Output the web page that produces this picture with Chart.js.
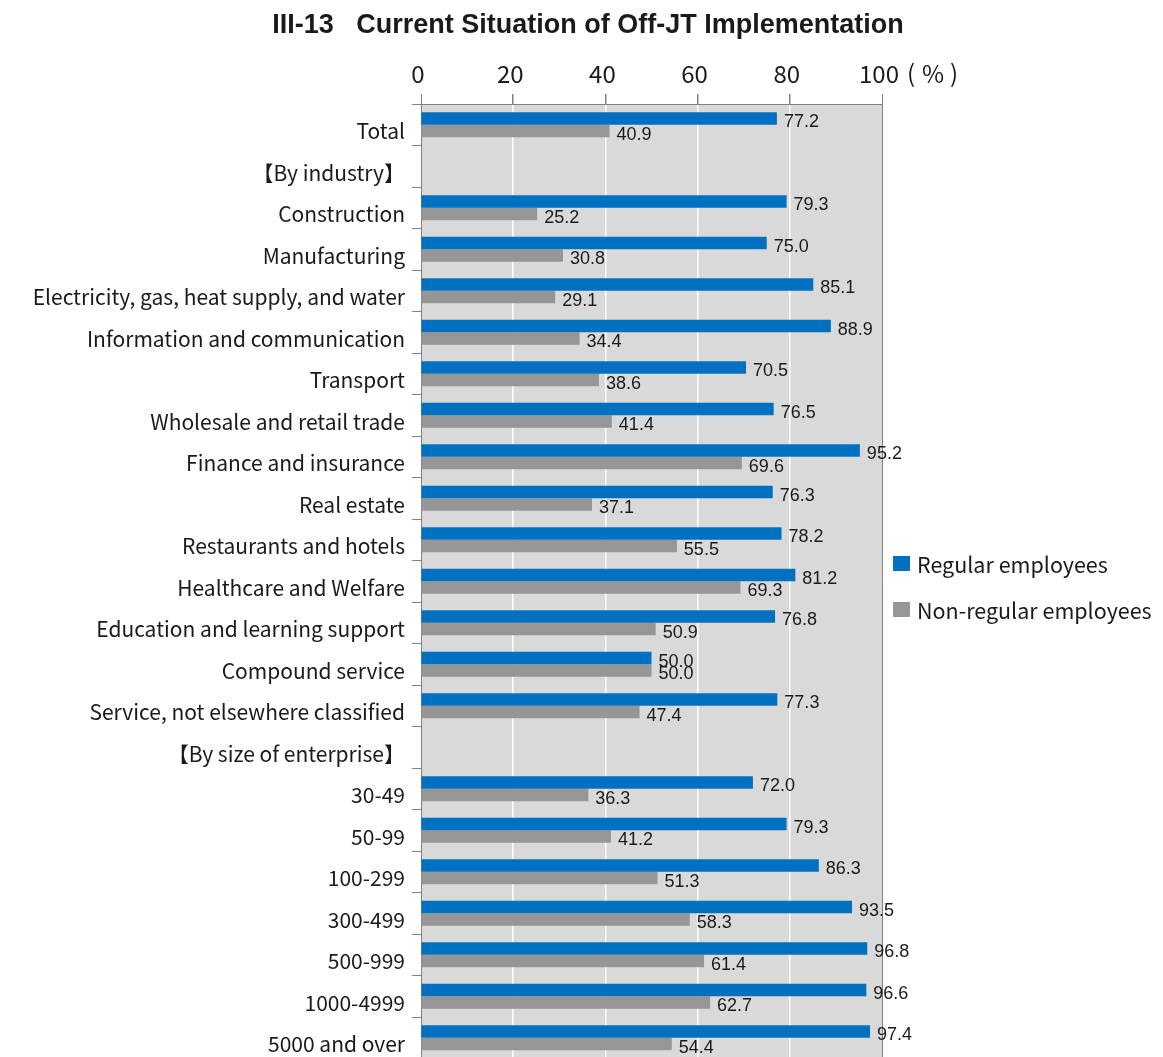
<!DOCTYPE html>
<html>
<head>
<meta charset="utf-8">
<title>Off-JT Implementation</title>
<script src="https://cdn.jsdelivr.net/npm/chart.js@4.4.1/dist/chart.umd.min.js"></script>
<style>
  html, body { margin: 0; padding: 0; background: #fff; overflow: hidden; }
  #wrap { width: 1163px; height: 1070px; }
</style>
</head>
<body>
<div id="wrap"><canvas id="offjt" width="1163" height="1070"></canvas></div>
<script>
// ---- data ----
var categories = [
  'Total', '【By industry】', 'Construction', 'Manufacturing',
  'Electricity, gas, heat supply, and water', 'Information and communication',
  'Transport', 'Wholesale and retail trade', 'Finance and insurance', 'Real estate',
  'Restaurants and hotels', 'Healthcare and Welfare', 'Education and learning support',
  'Compound service', 'Service, not elsewhere classified', '【By size of enterprise】',
  '30-49', '50-99', '100-299', '300-499', '500-999', '1000-4999', '5000 and over'
];
var regular = [77.2, null, 79.3, 75.0, 85.1, 88.9, 70.5, 76.5, 95.2, 76.3, 78.2, 81.2, 76.8, 50.0, 77.3,
  null, 72.0, 79.3, 86.3, 93.5, 96.8, 96.6, 97.4];
var nonRegular = [40.9, null, 25.2, 30.8, 29.1, 34.4, 38.6, 41.4, 69.6, 37.1, 55.5, 69.3, 50.9, 50.0, 47.4,
  null, 36.3, 41.2, 51.3, 58.3, 61.4, 62.7, 54.4];
var xTicks = [0, 20, 40, 60, 80, 100];
var seriesNames = ['Regular employees', 'Non-regular employees'];
var chartTitle = 'III-13   Current Situation of Off-JT Implementation';

var BLUE = '#0070c0';
var GREY = '#969696';
var TEXT = '#1a1a1a';
var LINE = '#808080';
var JP = '"Noto Sans CJK JP", "Noto Sans", sans-serif';
var ARIAL = '"Liberation Sans", Arial, sans-serif';

/* grey plot background */
var plotBg = {
  id: 'plotBg',
  beforeDraw: function (chart) {
    var a = chart.chartArea, ctx = chart.ctx;
    ctx.save();
    ctx.fillStyle = '#d9d9d9';
    ctx.fillRect(a.left, a.top, a.right - a.left, a.bottom - a.top);
    ctx.restore();
  }
};

/* value labels at the end of each bar */
var valueLabels = {
  id: 'valueLabels',
  afterDatasetsDraw: function (chart) {
    var ctx = chart.ctx;
    ctx.save();
    ctx.font = '18px ' + ARIAL;
    ctx.fillStyle = TEXT;
    ctx.textAlign = 'left';
    ctx.textBaseline = 'middle';
    chart.data.datasets.forEach(function (ds, i) {
      chart.getDatasetMeta(i).data.forEach(function (bar, j) {
        var v = ds.data[j];
        if (v === null) return;
        ctx.fillText(v.toFixed(1), bar.x + 7, bar.y + 4);
      });
    });
    ctx.restore();
  }
};

/* title, unit mark and legend */
var extras = {
  id: 'extras',
  afterDraw: function (chart) {
    var ctx = chart.ctx, xs = chart.scales.x;
    ctx.save();
    ctx.fillStyle = TEXT;

    ctx.font = 'bold 27px ' + ARIAL;
    ctx.textAlign = 'center';
    ctx.textBaseline = 'alphabetic';
    ctx.fillText(chartTitle, 588, 33);

    // (%) after the last tick
    var ux = xs.getPixelForValue(100);
    ctx.font = '24px ' + JP;
    ctx.textBaseline = 'middle';
    ctx.textAlign = 'left';
    ctx.fillText('(', ux + 25, 73);
    ctx.textAlign = 'center';
    ctx.fillText('%', ux + 51, 74);
    ctx.textAlign = 'right';
    ctx.fillText(')', ux + 76, 73);

    ctx.font = '21.5px ' + JP;
    ctx.textAlign = 'left';
    var lx = 893, ly = 564;
    chart.data.datasets.forEach(function (ds, i) {
      var y = ly + i * 46;
      ctx.fillStyle = ds.backgroundColor;
      ctx.fillRect(lx, y - 8, 17, 15);
      ctx.fillStyle = TEXT;
      ctx.fillText(ds.label, lx + 24, y + 1);
    });
    ctx.restore();
  }
};

new Chart(document.getElementById('offjt'), {
  type: 'bar',
  data: {
    labels: categories,
    datasets: [
      { label: seriesNames[0], data: regular, backgroundColor: BLUE },
      { label: seriesNames[1], data: nonRegular, backgroundColor: GREY }
    ]
  },
  options: {
    indexAxis: 'y',
    responsive: false,
    animation: false,
    layout: { padding: { top: 0, right: 281, bottom: 11.5, left: 0 } },
    datasets: { bar: { categoryPercentage: 0.6, barPercentage: 1.0 } },
    plugins: {
      legend: { display: false },
      tooltip: { enabled: false },
      title: { display: false }
    },
    scales: {
      x: {
        position: 'top',
        min: 0,
        max: 100,
        afterBuildTicks: function (axis) {
          axis.ticks = xTicks.map(function (v) { return { value: v }; });
        },
        afterFit: function (axis) { axis.height = 104; },
        border: { color: LINE, width: 1 },
        grid: {
          color: function (c) {
            if (c.tick && (c.tick.value === 100 || c.tick.value === 0)) return LINE;
            return '#ffffff';
          },
          lineWidth: function (c) {
            return c.tick && (c.tick.value === 100 || c.tick.value === 0) ? 1 : 1.5;
          },
          tickColor: LINE,
          tickLength: 10
        },
        ticks: {
          color: TEXT,
          padding: 6,
          labelOffset: -3,
          font: { family: JP, size: 24 }
        }
      },
      y: {
        afterFit: function (axis) {
          axis.width = 421;
          // rows run edge to edge, no overhang room needed for labels
          axis.paddingTop = 0;
          axis.paddingBottom = 0;
        },
        border: { color: LINE, width: 1 },
        grid: {
          offset: true,
          drawOnChartArea: false,
          color: LINE,
          tickLength: 9
        },
        ticks: {
          color: TEXT,
          padding: 7,
          labelOffset: 6.5,
          autoSkip: false,
          font: { family: JP, size: 21 }
        }
      }
    }
  },
  plugins: [plotBg, valueLabels, extras]
});
</script>
</body>
</html>
